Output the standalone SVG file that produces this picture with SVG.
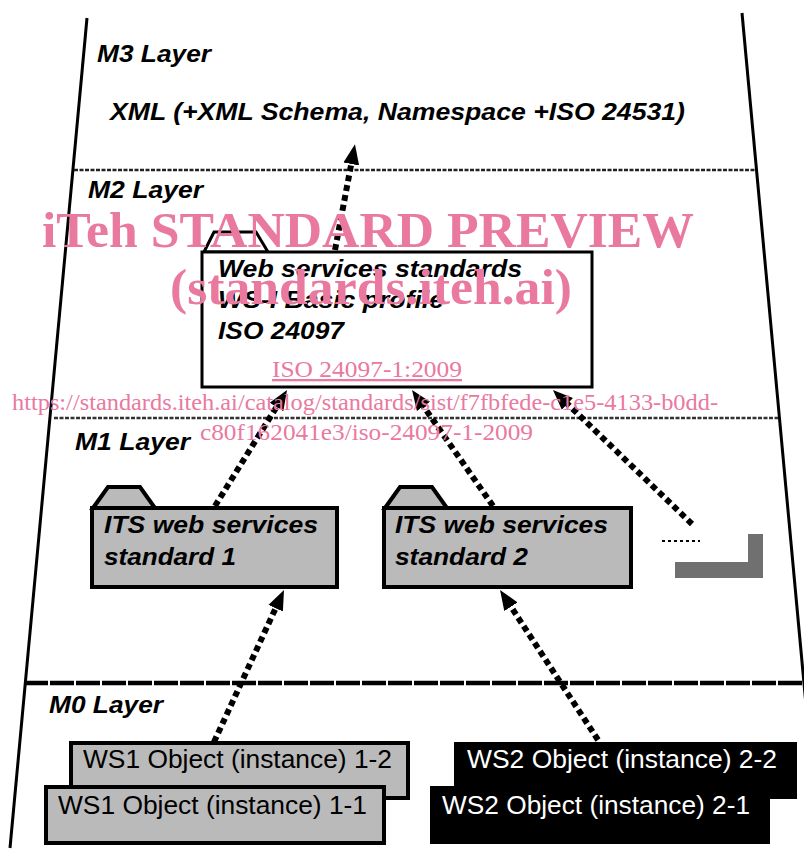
<svg xmlns="http://www.w3.org/2000/svg" width="804" height="850" viewBox="0 0 804 850">
<style>
.lbl{font-family:"Liberation Sans",Arial,sans-serif;font-weight:bold;font-style:italic;font-size:23px;fill:#000}
.obj{font-family:"Liberation Sans",Arial,sans-serif;font-size:26px}
.bnd{stroke:#000;stroke-width:3;fill:none}
.folderW{fill:#fff;stroke:#000;stroke-width:3}
.folderG{fill:#bababa;stroke:#000;stroke-width:4}
.conn{stroke:#000;stroke-width:6;stroke-dasharray:6 4;fill:none}
.wm{font-family:"Liberation Serif","Times New Roman",serif;fill:#e9799f}
</style>
<defs>
<marker id="ah" markerUnits="userSpaceOnUse" markerWidth="24" markerHeight="20" viewBox="0 -10 24 20" refX="4" refY="0" orient="auto">
<path d="M0,-8 L20,0 L0,8 z" fill="#000"/>
</marker>
</defs>
<rect width="804" height="850" fill="#fff"/>
<g id="layers">
<line class="bnd" x1="87" y1="18" x2="10" y2="848"/>
<line class="bnd" x1="742" y1="13" x2="806" y2="705"/>
<line x1="74" y1="170" x2="756" y2="170" stroke="#222" stroke-width="2.5" stroke-dasharray="4 1.5"/>
<line x1="54" y1="418" x2="778" y2="418" stroke="#333" stroke-width="2.5" stroke-dasharray="4 1.5"/>
<line x1="24" y1="683" x2="804" y2="683" stroke="#000" stroke-width="4.5" stroke-dasharray="24 2"/>
<text class="lbl" x="97" y="62" textLength="114" lengthAdjust="spacingAndGlyphs">M3 Layer</text>
<text class="lbl" x="88" y="198" textLength="115" lengthAdjust="spacingAndGlyphs">M2 Layer</text>
<text class="lbl" x="75" y="450" textLength="115" lengthAdjust="spacingAndGlyphs">M1 Layer</text>
<text class="lbl" x="49" y="713" textLength="114" lengthAdjust="spacingAndGlyphs">M0 Layer</text>
</g>
<g id="xml">
<text class="lbl" x="110" y="120" textLength="575" lengthAdjust="spacingAndGlyphs">XML (+XML Schema, Namespace +ISO 24531)</text>
</g>
<g id="m2-folder">
<path class="folderW" d="M204,252 L214,232 L256,232 L268,252 Z"/>
<rect class="folderW" x="202" y="252" width="390" height="135"/>
<text class="lbl" x="218" y="277" textLength="304" lengthAdjust="spacingAndGlyphs">Web services standards</text>
<text class="lbl" x="218" y="308" textLength="226" lengthAdjust="spacingAndGlyphs">WS-I Basic profile</text>
<text class="lbl" x="218" y="339" textLength="126" lengthAdjust="spacingAndGlyphs">ISO 24097</text>
</g>
<g id="its1">
<path class="folderG" d="M93,508 L108,487 L140,487 L155,508 Z"/>
<rect class="folderG" x="92" y="508" width="245" height="79"/>
<text class="lbl" x="104" y="533" textLength="214" lengthAdjust="spacingAndGlyphs">ITS web services</text>
<text class="lbl" x="104" y="565" textLength="132" lengthAdjust="spacingAndGlyphs">standard 1</text>
</g>
<g id="its2">
<path class="folderG" d="M385,508 L400,487 L432,487 L447,508 Z"/>
<rect class="folderG" x="384" y="508" width="247" height="79"/>
<text class="lbl" x="395" y="533" textLength="213" lengthAdjust="spacingAndGlyphs">ITS web services</text>
<text class="lbl" x="395" y="565" textLength="133" lengthAdjust="spacingAndGlyphs">standard 2</text>
</g>
<g id="more">
<line x1="662" y1="541" x2="700" y2="541" stroke="#000" stroke-width="2" stroke-dasharray="3 3"/>
<path d="M748,534 L763,534 L763,578 L675,578 L675,562 L748,562 Z" fill="#707070"/>
</g>
<g id="ws1-2">
<rect x="71" y="743" width="337" height="55" fill="#bababa" stroke="#000" stroke-width="4"/>
<text class="obj" x="83" y="768" fill="#000" textLength="309" lengthAdjust="spacingAndGlyphs">WS1 Object (instance) 1-2</text>
</g>
<g id="ws1-1">
<rect x="46" y="787" width="338" height="56" fill="#bababa" stroke="#000" stroke-width="4"/>
<text class="obj" x="58" y="814" fill="#000" textLength="309" lengthAdjust="spacingAndGlyphs">WS1 Object (instance) 1-1</text>
</g>
<g id="ws2-2">
<rect x="454" y="742" width="343" height="57" fill="#000"/>
<text class="obj" x="467" y="768" fill="#fff" textLength="310" lengthAdjust="spacingAndGlyphs">WS2 Object (instance) 2-2</text>
</g>
<g id="ws2-1">
<rect x="430" y="786" width="340" height="58" fill="#000"/>
<text class="obj" x="442" y="814" fill="#fff" textLength="308" lengthAdjust="spacingAndGlyphs">WS2 Object (instance) 2-1</text>
</g>
<g id="connectors">
<line class="conn" x1="335" y1="250" x2="352" y2="160" marker-end="url(#ah)"/>
<line class="conn" x1="215" y1="506" x2="278.6" y2="403.6" marker-end="url(#ah)"/>
<line class="conn" x1="493" y1="506" x2="421.2" y2="403.1" marker-end="url(#ah)"/>
<line class="conn" x1="692" y1="524" x2="564.5" y2="401.1" marker-end="url(#ah)"/>
<line class="conn" x1="214" y1="742" x2="277.3" y2="604.6" marker-end="url(#ah)"/>
<line class="conn" x1="598" y1="740" x2="508.8" y2="603.4" marker-end="url(#ah)"/>
</g>
<g id="watermark">
<text class="wm" x="42" y="247" font-size="50" font-weight="bold" textLength="652" lengthAdjust="spacingAndGlyphs">iTeh STANDARD PREVIEW</text>
<text class="wm" x="170" y="304" font-size="50" font-weight="bold" textLength="402" lengthAdjust="spacingAndGlyphs">(standards.iteh.ai)</text>
<text class="wm" x="272" y="377" font-size="23" text-decoration="underline" textLength="190" lengthAdjust="spacingAndGlyphs">ISO 24097-1:2009</text>
<text class="wm" x="12" y="410" font-size="23" textLength="706" lengthAdjust="spacingAndGlyphs">https://standards.iteh.ai/catalog/standards/sist/f7fbfede-c1e5-4133-b0dd-</text>
<text class="wm" x="200" y="440" font-size="23" textLength="333" lengthAdjust="spacingAndGlyphs">c80f162041e3/iso-24097-1-2009</text>
</g>
</svg>
